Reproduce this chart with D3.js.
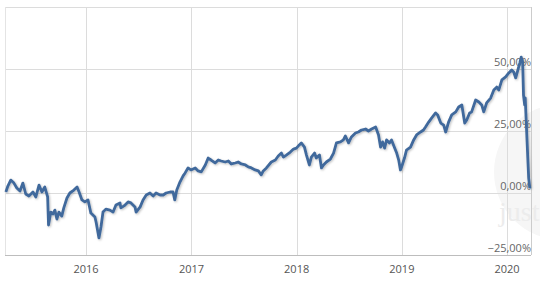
<!DOCTYPE html>
<html>
<head>
<meta charset="utf-8">
<script src="https://cdn.jsdelivr.net/npm/d3@7"></script>
<style>
    body { margin: 0; background: #fff; }
    #demo { width: 540px; height: 282px; }
    text { font-family: "Open Sans", sans-serif; }
</style>
</head>
<body>
<div id="demo"></div>
<script>
// performance since start
let dates = [
    "2015-03-29","2015-04-05","2015-04-15","2015-04-26","2015-05-06","2015-05-17","2015-05-27","2015-06-06","2015-06-17","2015-07-01",
    "2015-07-11","2015-07-22","2015-08-01","2015-08-11","2015-08-21","2015-08-24","2015-09-01","2015-09-08","2015-09-15","2015-09-22",
    "2015-09-29","2015-10-09","2015-10-16","2015-10-27","2015-11-06","2015-11-20","2015-12-01","2015-12-08","2015-12-18","2015-12-28",
    "2016-01-08","2016-01-18","2016-02-01","2016-02-05","2016-02-15","2016-02-22","2016-02-29","2016-03-10","2016-03-24","2016-04-04",
    "2016-04-14","2016-04-28","2016-05-01","2016-05-12","2016-05-26","2016-06-05","2016-06-19","2016-06-23","2016-07-07","2016-07-17",
    "2016-07-28","2016-08-10","2016-08-21","2016-08-31","2016-09-14","2016-09-25","2016-10-05","2016-10-19","2016-10-29","2016-11-04",
    "2016-11-11","2016-11-22","2016-12-03","2016-12-10","2016-12-20","2016-12-30",
    "2017-01-14","2017-01-24","2017-02-04","2017-02-18","2017-02-28","2017-03-10","2017-03-24","2017-04-04","2017-04-14","2017-04-28",
    "2017-05-09","2017-05-19","2017-06-02","2017-06-12","2017-06-23","2017-07-07","2017-07-17","2017-07-28","2017-08-10","2017-08-21",
    "2017-08-31","2017-09-07","2017-09-18","2017-10-05","2017-10-19","2017-10-29","2017-11-09","2017-11-16","2017-11-26","2017-12-10",
    "2017-12-21","2017-12-31",
    "2018-01-10","2018-01-17","2018-01-28","2018-02-04","2018-02-14","2018-02-21","2018-03-04","2018-03-10","2018-03-21","2018-03-28",
    "2018-04-04","2018-04-14","2018-04-28","2018-05-09","2018-05-19","2018-06-02","2018-06-12","2018-06-19","2018-06-30","2018-07-10",
    "2018-07-24","2018-08-03","2018-08-14","2018-08-28","2018-09-07","2018-09-18","2018-10-02","2018-10-12","2018-10-19","2018-10-26",
    "2018-11-02","2018-11-09","2018-11-19","2018-11-26","2018-12-07","2018-12-14","2018-12-21","2018-12-27","2018-12-31",
    "2019-01-10","2019-01-17","2019-01-31","2019-02-11","2019-02-21","2019-03-07","2019-03-17","2019-03-24","2019-04-04","2019-04-14",
    "2019-04-28","2019-05-05","2019-05-16","2019-05-26","2019-06-02","2019-06-12","2019-06-23","2019-07-07","2019-07-17","2019-07-28",
    "2019-08-07","2019-08-14","2019-08-24","2019-08-31","2019-09-14","2019-09-25","2019-10-05","2019-10-12","2019-10-22","2019-11-05",
    "2019-11-16","2019-11-26","2019-12-03","2019-12-14","2019-12-27",
    "2020-01-07","2020-01-17","2020-01-24","2020-01-31","2020-02-14","2020-02-19","2020-02-24","2020-02-27","2020-03-02","2020-03-04",
    "2020-03-09","2020-03-12","2020-03-16","2020-03-20"
];

let performance = [
    0.4, 2.8, 5.2, 4.0, 2.0, 0.8, 4.0, -0.4, -1.2, 0.4,
    -1.6, 3.2, 0.4, 2.4, -1.6, -12.9, -7.7, -8.5, -6.9, -10.5,
    -7.7, -9.3, -6.0, -2.0, 0.0, 1.2, 2.4, 0.4, -2.8, -3.6,
    -2.8, -8.1, -9.7, -11.7, -18.1, -13.7, -7.7, -6.5, -6.9, -7.7,
    -4.8, -4.0, -6.0, -5.2, -3.6, -4.0, -5.6, -7.7, -5.6, -2.8,
    -0.8, 0.0, -1.2, 0.0, -0.8, -0.8, 0.0, 0.4, 0.4, -2.8,
    1.2, 4.4, 6.9, 8.1, 10.1, 9.3,
    10.1, 8.9, 8.5, 11.3, 14.1, 13.3, 12.1, 13.3, 12.9, 12.5,
    12.9, 11.7, 12.1, 12.5, 11.7, 11.3, 10.5, 10.1, 9.3, 8.9,
    7.3, 8.9, 10.1, 12.5, 13.3, 14.9, 16.1, 14.5, 15.3, 16.5,
    17.7, 18.1,
    19.4, 20.2, 18.5, 15.3, 11.3, 14.5, 16.1, 14.1, 15.3, 10.1,
    11.3, 12.5, 13.7, 16.1, 20.2, 20.6, 21.4, 23.0, 20.2, 22.6,
    24.2, 24.6, 25.4, 25.8, 25.0, 25.8, 26.6, 23.4, 18.5, 20.6,
    18.1, 21.4, 20.2, 21.4, 18.1, 16.1, 13.3, 9.3, 10.5,
    14.1, 17.3, 18.5, 21.4, 23.4, 24.6, 25.4, 26.6, 28.6, 30.2,
    32.3, 31.5, 28.2, 27.4, 24.6, 28.6, 31.5, 32.7, 34.7, 35.5,
    28.2, 29.4, 32.3, 32.7, 37.5, 36.7, 35.5, 32.7, 36.3, 38.3,
    41.5, 42.7, 41.5, 45.6, 46.8,
    48.4, 49.6, 48.8, 46.4, 52.4, 54.8, 52.8, 39.5, 35.5, 38.3,
    24.6, 16.5, 6.0, 2.0
];

let yearTicks = ["2016-01-01", "2017-01-01", "2018-01-01", "2019-01-01", "2020-01-01"];
let yGrid = [-25, 0, 25, 50, 75];
let yLabels = [-25, 0, 25, 50];
let xDomain = ["2015-03-26", "2020-03-24"];
let yDomain = [-25, 75];

let parse = d3.timeParse("%Y-%m-%d");
let data = dates.map((d, i) => ({ date: parse(d), value: performance[i] }));

let w = 540;
let h = 282;
let m = {top: 7, right: 9, bottom: 27, left: 5};

let svg = d3.select("#demo")
    .append("svg")
    .attr("width", w)
    .attr("height", h);

let x = d3.scaleTime()
    .domain(xDomain.map(parse))
    .range([m.left, w - m.right]);

let y = d3.scaleLinear()
    .domain(yDomain)
    .range([h - m.bottom, m.top]);

// german number format for the percent labels
let de = d3.formatLocale({decimal: ",", thousands: ".", grouping: [3], currency: ["", "€"]});
let pct = (v) => de.format(".2f")(v) + "%";

// watermark in the back
let wm = svg.append("g");
wm.append("circle")
    .attr("cx", 562)
    .attr("cy", 172)
    .attr("r", 68)
    .attr("fill", "#f6f6f6");
wm.append("text")
    .attr("x", 499)
    .attr("y", 221)
    .attr("font-size", 28)
    .attr("fill", "#ececec")
    .style("font-family", "'Liberation Serif', serif")
    .text("just");

// grid
svg.append("g")
    .selectAll("line")
    .data(yGrid)
    .enter()
    .append("line")
    .attr("x1", m.left)
    .attr("x2", w - m.right)
    .attr("y1", (d) => Math.round(y(d)) + 0.5)
    .attr("y2", (d) => Math.round(y(d)) + 0.5)
    .attr("stroke", "#dcdcdc");

svg.append("g")
    .selectAll("line")
    .data(yearTicks)
    .enter()
    .append("line")
    .attr("x1", (d) => Math.round(x(parse(d))) + 0.5)
    .attr("x2", (d) => Math.round(x(parse(d))) + 0.5)
    .attr("y1", m.top)
    .attr("y2", h - m.bottom)
    .attr("stroke", "#dcdcdc");

// plot border left / right
svg.append("line")
    .attr("x1", m.left + 0.5).attr("x2", m.left + 0.5)
    .attr("y1", m.top).attr("y2", h - m.bottom)
    .attr("stroke", "#e4e4e4");
svg.append("line")
    .attr("x1", w - m.right + 0.5).attr("x2", w - m.right + 0.5)
    .attr("y1", m.top).attr("y2", h - m.bottom)
    .attr("stroke", "#cccccc");

// x axis line
svg.append("line")
    .attr("x1", m.left)
    .attr("x2", w - m.right)
    .attr("y1", h - m.bottom + 0.5)
    .attr("y2", h - m.bottom + 0.5)
    .attr("stroke", "#bdbdbd");

// year labels
svg.append("g")
    .selectAll("text")
    .data(yearTicks)
    .enter()
    .append("text")
    .attr("x", (d) => x(parse(d)))
    .attr("y", h - 9)
    .attr("text-anchor", "middle")
    .attr("font-size", 11)
    .attr("fill", "#555")
    .text((d) => d3.timeFormat("%Y")(parse(d)));

// percent labels on the right
svg.append("g")
    .selectAll("text")
    .data(yLabels)
    .enter()
    .append("text")
    .attr("x", w - m.right)
    .attr("y", (d) => y(d) - 3)
    .attr("text-anchor", "end")
    .attr("font-size", 11)
    .attr("fill", "#666")
    .text((d) => pct(d));

// line shadow
let defs = svg.append("defs");
let f = defs.append("filter")
    .attr("id", "shadow")
    .attr("x", "-5%").attr("y", "-5%")
    .attr("width", "110%").attr("height", "110%");
f.append("feDropShadow")
    .attr("dx", 1)
    .attr("dy", 1)
    .attr("stdDeviation", 1)
    .attr("flood-color", "#000")
    .attr("flood-opacity", 0.25);

let line = d3.line()
    .x((d) => x(d.date))
    .y((d) => y(d.value));

svg.append("path")
    .datum(data)
    .attr("d", line)
    .attr("fill", "none")
    .attr("stroke", "#41699c")
    .attr("stroke-width", 2.8)
    .attr("stroke-linejoin", "round")
    .attr("filter", "url(#shadow)");
</script>
</body>
</html>
